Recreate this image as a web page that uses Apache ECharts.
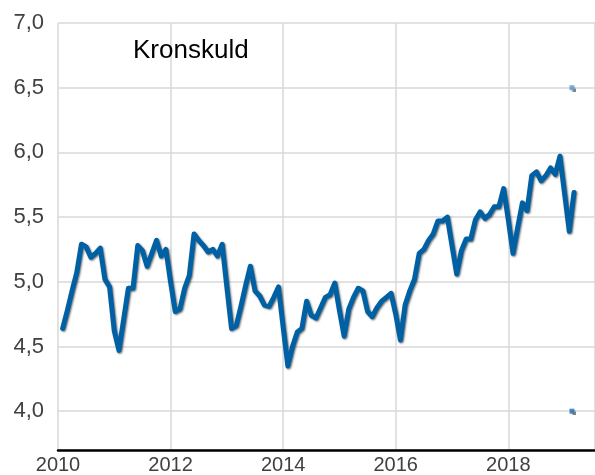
<!DOCTYPE html>
<html>
<head>
<meta charset="utf-8">
<script src="https://cdn.jsdelivr.net/npm/echarts@6/dist/echarts.min.js"></script>
<style>
html,body{margin:0;padding:0;background:#fff;}
#chart{width:595px;height:475px;}
</style>
</head>
<body>
<div id="chart"></div>
<script>
// monthly values, Jan 2010 .. Feb 2019
var startYear = 2010;
var kronskuld = [
	4.64,4.78,4.93,5.07,5.29,5.27,5.19,5.22,5.26,5.02,4.96,4.62,
	4.47,4.71,4.95,4.95,5.28,5.24,5.12,5.22,5.32,5.20,5.25,5.00,
	4.77,4.79,4.95,5.05,5.37,5.32,5.28,5.23,5.25,5.20,5.29,4.96,
	4.64,4.66,4.81,4.97,5.12,4.93,4.89,4.82,4.81,4.88,4.96,4.65,
	4.35,4.50,4.61,4.64,4.85,4.74,4.72,4.80,4.88,4.90,4.99,4.78,
	4.58,4.79,4.88,4.95,4.93,4.77,4.73,4.80,4.85,4.88,4.91,4.75,
	4.55,4.82,4.93,5.02,5.22,5.25,5.32,5.37,5.47,5.47,5.50,5.28,
	5.06,5.24,5.33,5.33,5.48,5.54,5.49,5.52,5.58,5.58,5.72,5.48,
	5.22,5.42,5.61,5.55,5.82,5.85,5.78,5.82,5.88,5.83,5.97,5.68,
	5.39,5.69
];
// two single markers at Feb 2019
var markerX = [2019.13, 2019.13];
var markerY = [6.5, 4.0];
var markerColors = ['#5b9bd5', '#1f6fbf'];

function toLineData(vals){
	var d=[];
	for(var i=0;i<vals.length;i++){
		d.push([startYear+(i+1)/12, vals[i]]);
	}
	return d;
}

function toMarkerData(){
	var d=[];
	for(var i=0;i<markerX.length;i++){
		d.push({value:[markerX[i], markerY[i]], itemStyle:{color:markerColors[i]}});
	}
	return d;
}

var chart = echarts.init(document.getElementById('chart'));
var option = {
	animation:false,
	title:{
		text:'Kronskuld',
		left:128,
		top:33,
		textStyle:{fontFamily:'Liberation Sans, Arial',fontSize:26,fontWeight:'normal',color:'#000'}
	},
	grid:{left:58,right:0,top:23,bottom:24},
	xAxis:{
		type:'value',
		min:2010,
		max:2019.54,
		interval:2,
		axisLine:{show:true,lineStyle:{color:'#000',width:2.5}},
		axisTick:{show:false},
		axisLabel:{
			showMaxLabel:false,
			margin:5,
			color:'#404040',
			fontFamily:'Liberation Sans, Arial',
			fontSize:20,
			formatter:function(v){return String(Math.round(v));}
		},
		splitLine:{show:true,lineStyle:{color:'#d9d9d9',width:1.5}}
	},
	yAxis:{
		type:'value',
		min:3.7,
		max:7.0,
		splitNumber:7,
		axisLine:{show:false},
		axisTick:{show:false},
		axisLabel:{
			showMinLabel:false,
			margin:14,
			color:'#404040',
			fontFamily:'Liberation Sans, Arial',
			fontSize:22,
			formatter:function(v){return v.toFixed(1).replace('.',',');}
		},
		splitLine:{show:true,lineStyle:{color:'#d9d9d9',width:1.5}}
	},
	series:[
		{
			name:'Kronskuld',
			type:'line',
			data:toLineData(kronskuld),
			showSymbol:false,
			symbol:'none',
			lineStyle:{
				color:'#0060a4',
				width:5,
				join:'round',
				cap:'round',
				shadowColor:'rgba(0,0,0,0.55)',
				shadowBlur:2,
				shadowOffsetX:1,
				shadowOffsetY:1
			}
		},
		{
			name:'marker',
			type:'scatter',
			data:toMarkerData(),
			symbol:'rect',
			symbolSize:5,
			itemStyle:{
				shadowColor:'rgba(0,0,0,0.6)',
				shadowBlur:1,
				shadowOffsetX:1.5,
				shadowOffsetY:1.5
			}
		}
	]
};
chart.setOption(option);
</script>
</body>
</html>
